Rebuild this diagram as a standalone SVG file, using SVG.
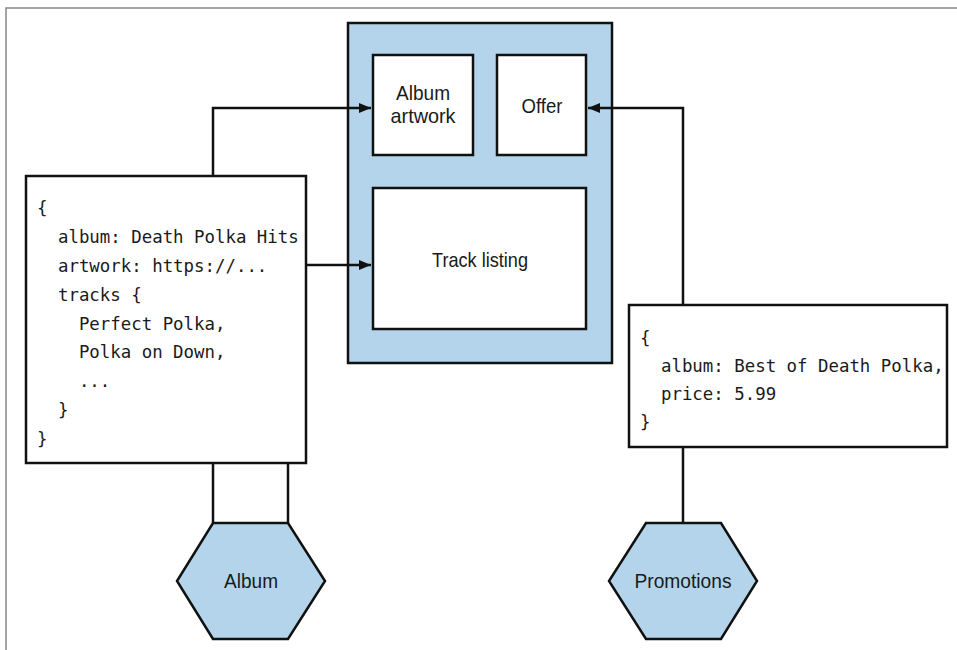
<svg xmlns="http://www.w3.org/2000/svg" width="957" height="650" viewBox="0 0 957 650">
<style>
.box{fill:#ffffff;stroke:#111;stroke-width:2.5}
.blue{fill:#b3d4ea;stroke:#111;stroke-width:2.5}
.conn{fill:none;stroke:#111;stroke-width:2.5}
.lbl{font-family:"Liberation Sans",Arial,sans-serif;font-size:21px;fill:#1a1a1a;text-anchor:middle}
.code{font-family:"DejaVu Sans Mono","Liberation Mono",monospace;font-size:17.4px;fill:#1a1a1a;white-space:pre}
</style>
<defs>
<marker id="arrow" viewBox="0 0 12 10" refX="12" refY="5" markerWidth="12" markerHeight="10" markerUnits="userSpaceOnUse" orient="auto">
<path d="M0,0 L12,5 L0,10 Z" fill="#111"/>
</marker>
</defs>
<rect width="957" height="650" fill="#ffffff"/>
<path d="M6,650 L6,8 L957,8" fill="none" stroke="#888" stroke-width="1.5"/>

<g id="ui-container">
<rect class="blue" x="348" y="23" width="264" height="340"/>
</g>

<g id="album-artwork">
<rect class="box" x="373" y="55" width="100" height="100"/>
<text class="lbl" x="423" y="100" textLength="54" lengthAdjust="spacingAndGlyphs">Album</text>
<text class="lbl" x="423" y="123" textLength="65" lengthAdjust="spacingAndGlyphs">artwork</text>
</g>

<g id="offer">
<rect class="box" x="497" y="55" width="89" height="100"/>
<text class="lbl" x="542" y="113" textLength="41" lengthAdjust="spacingAndGlyphs">Offer</text>
</g>

<g id="track-listing">
<rect class="box" x="373" y="188" width="213" height="141"/>
<text class="lbl" x="480" y="267" textLength="96" lengthAdjust="spacingAndGlyphs">Track listing</text>
</g>

<g id="album-json">
<rect class="box" x="26" y="176" width="280" height="287"/>
<text class="code" x="37" y="214">{</text>
<text class="code" x="37" y="243">  album: Death Polka Hits</text>
<text class="code" x="37" y="272">  artwork: https://...</text>
<text class="code" x="37" y="301">  tracks {</text>
<text class="code" x="37" y="330">    Perfect Polka,</text>
<text class="code" x="37" y="358">    Polka on Down,</text>
<text class="code" x="37" y="387">    ...</text>
<text class="code" x="37" y="416">  }</text>
<text class="code" x="37" y="445">}</text>
</g>

<g id="promotions-json">
<rect class="box" x="629" y="305" width="318" height="142"/>
<text class="code" x="640" y="344">{</text>
<text class="code" x="640" y="372">  album: Best of Death Polka,</text>
<text class="code" x="640" y="400">  price: 5.99</text>
<text class="code" x="640" y="428">}</text>
</g>

<g id="album-service">
<polygon class="blue" points="213,523 288,523 325,581 288,639 213,639 177,581"/>
<text class="lbl" x="251" y="588" textLength="54" lengthAdjust="spacingAndGlyphs">Album</text>
</g>

<g id="promotions-service">
<polygon class="blue" points="646,523 721,523 757,581 721,639 646,639 609,581"/>
<text class="lbl" x="683" y="588" textLength="97" lengthAdjust="spacingAndGlyphs">Promotions</text>
</g>

<g id="connectors">
<path class="conn" d="M213,176 L213,108 L371,108" marker-end="url(#arrow)"/>
<path class="conn" d="M306,265 L371,265" marker-end="url(#arrow)"/>
<path class="conn" d="M683,305 L683,108 L588,108" marker-end="url(#arrow)"/>
<path class="conn" d="M213,463 L213,523"/>
<path class="conn" d="M288,463 L288,523"/>
<path class="conn" d="M683,447 L683,523"/>
</g>
</svg>
